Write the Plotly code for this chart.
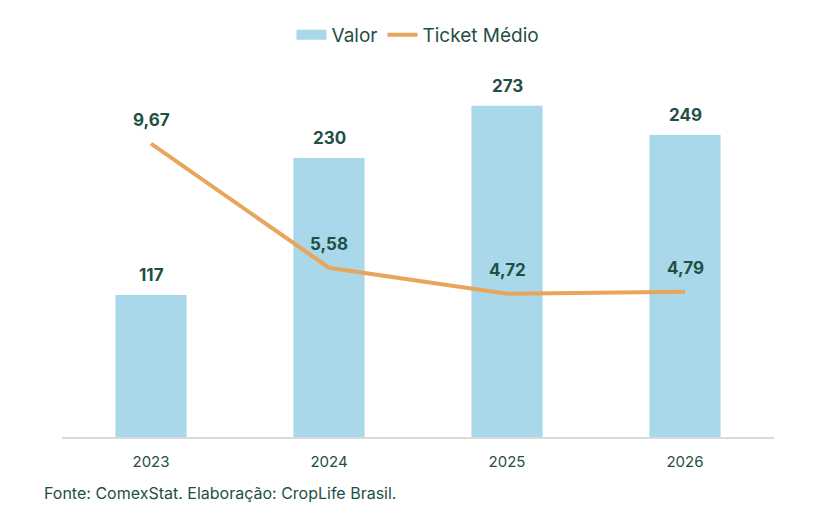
import plotly.graph_objects as go

anos = ["2023", "2024", "2025", "2026"]
valor = [117, 230, 273, 249]
valor_labels = ["117", "230", "273", "249"]
ticket_medio = [9.67, 5.58, 4.72, 4.79]
ticket_labels = ["9,67", "5,58", "4,72", "4,79"]

verde = "#1f4f45"
azul = "#a8d8e9"
laranja = "#e8a55c"
fonte = "Inter"

fig = go.Figure()

fig.add_trace(go.Bar(
    x=anos, y=valor, name="Valor", showlegend=False,
    marker=dict(color=azul, line=dict(width=0)),
))

# entrada de legenda com retângulo largo, como no original
fig.add_trace(go.Scatter(
    x=[None], y=[None], name="Valor", mode="lines",
    line=dict(color=azul, width=12),
))

fig.add_trace(go.Scatter(
    x=anos, y=ticket_medio, name="Ticket Médio", yaxis="y2",
    mode="lines", line=dict(color=laranja, width=4),
    cliponaxis=False,
))

rotulo = dict(family=fonte, size=17, color=verde, weight="bold")

# rótulos (x pelo índice da categoria)
notas = [dict(x=i, y=v, text=s, xref="x", yref="y", yshift=20, showarrow=False, font=rotulo)
         for i, (v, s) in enumerate(zip(valor, valor_labels))]
notas += [dict(x=i, y=t, text=s, xref="x", yref="y2", yshift=24, showarrow=False, font=rotulo)
          for i, (t, s) in enumerate(zip(ticket_medio, ticket_labels))]

notas.append(dict(
    text="Fonte: ComexStat. Elaboração: CropLife Brasil.",
    xref="paper", yref="paper", x=-0.028, y=-0.154, xanchor="left", yanchor="middle",
    showarrow=False, font=dict(size=16, color=verde),
))

# o navegador acrescenta 8px de margem ao corpo da página
fig.update_layout(
    width=825, height=519,
    margin=dict(l=54, r=59, t=65, b=90),
    paper_bgcolor="white", plot_bgcolor="white",
    font=dict(family=fonte, color=verde),
    bargap=0.6,
    showlegend=True,
    legend=dict(orientation="h", x=0.5, xanchor="center", xref="paper",
                y=1 - 27 / 519, yref="container", yanchor="middle",
                font=dict(size=19, color=verde), traceorder="normal"),
    xaxis=dict(type="category", range=[-0.5, len(anos) - 0.5], showline=True,
               linecolor="#d9d9d9", linewidth=1.5,
               ticks="", ticklabelstandoff=10, tickfont=dict(size=15, color=verde)),
    yaxis=dict(range=[0, 300], visible=False, showgrid=False),
    yaxis2=dict(range=[0, 12], overlaying="y", side="right", visible=False, showgrid=False),
    annotations=notas,
)

fig.write_html("out.html")
